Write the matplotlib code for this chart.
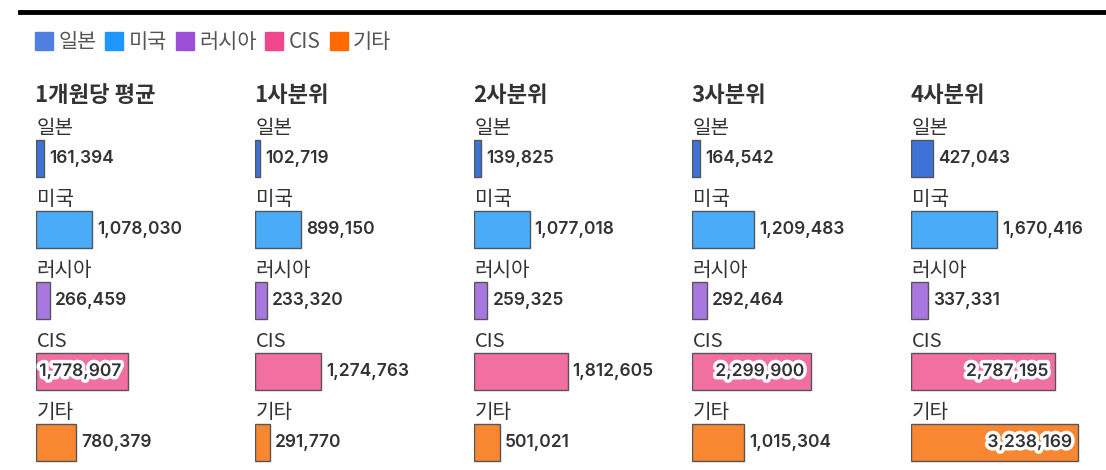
import matplotlib.pyplot as plt
import matplotlib.patheffects as pe
from matplotlib.lines import Line2D

plt.rcParams['font.family'] = ['Noto Sans CJK KR', 'DejaVu Sans']

categories = ['일본', '미국', '러시아', 'CIS', '기타']
panels = ['1개원당 평균', '1사분위', '2사분위', '3사분위', '4사분위']
values = [
    [161394, 1078030, 266459, 1778907, 780379],
    [102719, 899150, 233320, 1274763, 291770],
    [139825, 1077018, 259325, 1812605, 501021],
    [164542, 1209483, 292464, 2299900, 1015304],
    [427043, 1670416, 337331, 2787195, 3238169],
]
# labels drawn inside the bar (panel, category)
inside = {(0, 3), (3, 3), (4, 3), (4, 4)}

legend_colors = ['#4f7fe0', '#1e96ff', '#9b4fd8', '#f0468c', '#ff6a00']
bar_colors = ['#3d72d9', '#4aabf8', '#a877e0', '#f26fa2', '#f98631']

W, H = 1106, 470
fig = plt.figure(figsize=(W / 100, H / 100), dpi=100)

# top rule
fig.add_artist(Line2D([20 / W, 1.0], [1 - 12 / H, 1 - 12 / H], color='black', lw=3.5))

# legend
handles = [Line2D([], [], marker='s', ls='', markersize=13, color=c) for c in legend_colors]
fig.legend(handles, categories, loc='center left', bbox_to_anchor=(25 / W, 1 - 42 / H),
           ncol=5, frameon=False, handlelength=0.8, handletextpad=0.3,
           columnspacing=0.45, fontsize=15, labelcolor='#555555', borderpad=0)

x_starts = [36, 255, 474, 692, 911]
px_per_unit = 51.6 / 1e6
ax_w = 195
top_px, bot_px = 100, 470
row_h = 71
first_center = 158.5

num_font = dict(family='Inter', fontsize=12.5, fontweight='semibold', color='#333333', va='center')

for p, (title, vals) in enumerate(zip(panels, values)):
    ax = fig.add_axes([x_starts[p] / W, 1 - bot_px / H, ax_w / W, (bot_px - top_px) / H])
    ax.set_xlim(0, ax_w / px_per_unit)
    ax.set_ylim((bot_px - first_center) / row_h, (top_px - first_center) / row_h)
    ax.axis('off')
    rows = list(range(len(categories)))
    ax.barh(rows, vals, height=37 / row_h, color=bar_colors, edgecolor='#555555', linewidth=1)
    fig.text((x_starts[p] - 1) / W, 1 - 96 / H, title, fontsize=16, fontweight='bold',
             color='#333333', va='center', ha='left')
    for r, v in zip(rows, vals):
        ax.text(0.01e6, r - 0.42, categories[r], fontsize=14.5, color='#333333',
                va='center', ha='left', clip_on=False)
        label = f'{v:,}'
        if (p, r) in inside:
            ax.text(v - 0.12e6, r, label, ha='right', clip_on=False,
                    path_effects=[pe.withStroke(linewidth=5, foreground='white')], **num_font)
        else:
            ax.text(v + 0.1e6, r, label, ha='left', clip_on=False, **num_font)

fig.savefig('out.png', dpi=100)
